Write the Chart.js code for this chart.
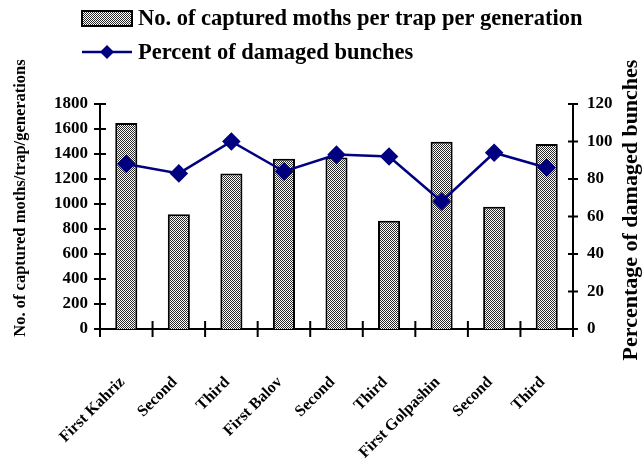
<!DOCTYPE html>
<html>
<head>
<meta charset="utf-8">
<script src="https://cdn.jsdelivr.net/npm/chart.js@4/dist/chart.umd.min.js"></script>
<style>
  body { margin: 0; background: #fff; }
  canvas { display: block; }
</style>
</head>
<body>
<canvas id="myChart" width="644" height="459"></canvas>
<script>
const categories = ['First Kahriz', 'Second', 'Third', 'First Balov', 'Second', 'Third', 'First Golpashin', 'Second', 'Third'];
const moths = [1648, 918, 1245, 1362, 1372, 866, 1498, 978, 1480];
const damaged = [88, 83, 100, 84, 93, 92, 68, 94, 86];
const mothTicks = [0, 200, 400, 600, 800, 1000, 1200, 1400, 1600, 1800];
const damagedTicks = [0, 20, 40, 60, 80, 100, 120];

const mothLabel = 'No. of captured moths per trap per generation';
const damagedLabel = 'Percent of damaged bunches';
const leftTitle = 'No. of captured moths/trap/generations';
const rightTitle = 'Percentage of damaged bunches';

const serif = '"Liberation Serif", "Times New Roman", serif';
const navy = '#000080';

// dotted grey fill like the old excel pattern
function makePattern() {
    const c = document.createElement('canvas');
    c.width = 2; c.height = 2;
    const g = c.getContext('2d');
    g.fillStyle = '#fff';
    g.fillRect(0, 0, 2, 2);
    g.fillStyle = '#2a2a2a';
    g.fillRect(0, 0, 1, 1);
    g.fillRect(1, 1, 1, 1);
    return g.createPattern(c, 'repeat');
}
const pattern = makePattern();

// ticks that cross the axis lines, legend and axis titles
const extras = {
    id: 'extras',
    afterDraw(chart) {
        const ctx = chart.ctx;
        const x = chart.scales.x, y = chart.scales.y, y1 = chart.scales.y1;
        ctx.save();
        ctx.strokeStyle = '#000';
        ctx.lineWidth = 2;
        ctx.beginPath();
        mothTicks.forEach(v => {
            const py = y.getPixelForValue(v);
            ctx.moveTo(x.left - 6, py); ctx.lineTo(x.left + 6, py);
        });
        damagedTicks.forEach(v => {
            const py = y1.getPixelForValue(v);
            ctx.moveTo(x.right - 5, py); ctx.lineTo(x.right + 5, py);
        });
        for (let i = 0; i <= categories.length; i++) {
            const px = x.getPixelForValue(i - 0.5);
            ctx.moveTo(px, y.bottom - 8); ctx.lineTo(px, y.bottom + 8);
        }
        ctx.stroke();

        // axis titles
        ctx.fillStyle = '#000';
        ctx.textAlign = 'center';
        ctx.textBaseline = 'middle';
        ctx.font = 'bold 16.5px ' + serif;
        ctx.save();
        ctx.translate(21, 198);
        ctx.rotate(-Math.PI / 2);
        ctx.fillText(leftTitle, 0, 0);
        ctx.restore();
        ctx.font = 'bold 22px ' + serif;
        ctx.save();
        ctx.translate(631, 210);
        ctx.rotate(-Math.PI / 2);
        ctx.fillText(rightTitle, 0, 0);
        ctx.restore();

        // legend
        ctx.fillStyle = pattern;
        ctx.fillRect(82, 11, 50, 15);
        ctx.lineWidth = 2;
        ctx.strokeRect(82, 11, 50, 15);
        ctx.strokeStyle = navy;
        ctx.lineWidth = 2.5;
        ctx.beginPath();
        ctx.moveTo(82, 52); ctx.lineTo(132, 52);
        ctx.stroke();
        ctx.fillStyle = navy;
        ctx.beginPath();
        ctx.moveTo(107, 45); ctx.lineTo(114, 52); ctx.lineTo(107, 59); ctx.lineTo(100, 52);
        ctx.closePath();
        ctx.fill();
        ctx.fillStyle = '#000';
        ctx.textAlign = 'left';
        ctx.font = 'bold 22.5px ' + serif;
        ctx.fillText(mothLabel, 138, 19);
        ctx.fillText(damagedLabel, 138, 53);
        ctx.restore();
    }
};

const ctx = document.getElementById('myChart').getContext('2d');
const myChart = new Chart(ctx, {
    data: {
        labels: categories,
        datasets: [{
            type: 'line',
            label: damagedLabel,
            data: damaged,
            yAxisID: 'y1',
            borderColor: navy,
            backgroundColor: navy,
            borderWidth: 2.5,
            pointStyle: 'rectRot',
            pointRadius: 7.5,
            pointHoverRadius: 7.5,
            tension: 0,
            order: 0
        }, {
            type: 'bar',
            label: mothLabel,
            data: moths,
            yAxisID: 'y',
            backgroundColor: pattern,
            borderColor: '#000',
            borderWidth: 2,
            barPercentage: 0.42,
            categoryPercentage: 1,
            order: 1
        }]
    },
    options: {
        responsive: false,
        animation: false,
        layout: { padding: { top: 104, left: 0, right: 0, bottom: 0 } },
        plugins: {
            legend: { display: false },
            tooltip: { enabled: false }
        },
        scales: {
            x: {
                grid: { display: false },
                border: { display: true, color: '#000', width: 2 },
                ticks: {
                    color: '#000',
                    font: { family: serif, size: 16, weight: 'bold' },
                    minRotation: 45,
                    maxRotation: 45,
                    padding: 36,
                    labelOffset: -4,
                    autoSkip: false
                },
                afterFit(scale) { scale.height = 130; }
            },
            y: {
                position: 'left',
                min: 0,
                max: 1800,
                grid: { display: false },
                border: { display: true, color: '#000', width: 2 },
                ticks: {
                    stepSize: 200,
                    color: '#000',
                    padding: 4,
                    font: { family: serif, size: 17, weight: 'bold' },
                    callback: v => String(v)
                },
                afterFit(scale) { scale.width = 100; }
            },
            y1: {
                position: 'right',
                min: 0,
                max: 120,
                grid: { display: false },
                border: { display: true, color: '#000', width: 2 },
                ticks: {
                    stepSize: 20,
                    color: '#000',
                    padding: 6,
                    font: { family: serif, size: 17, weight: 'bold' },
                    callback: v => String(v)
                },
                afterFit(scale) { scale.width = 71; }
            }
        }
    },
    plugins: [extras]
});
</script>
</body>
</html>
